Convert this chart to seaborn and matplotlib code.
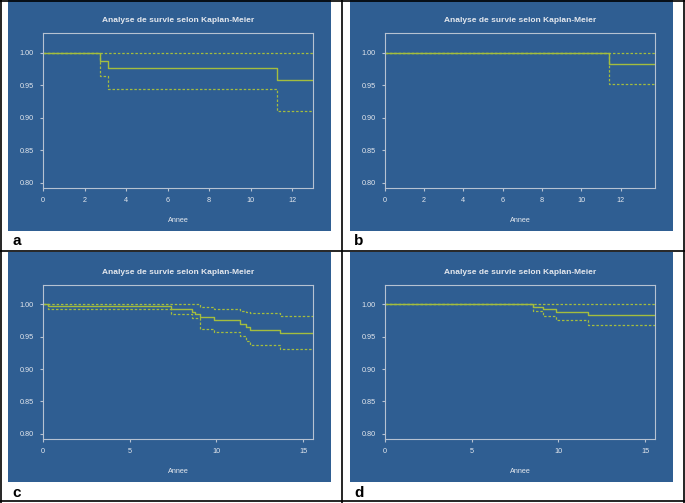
import pandas as pd
import numpy as np
import matplotlib
matplotlib.use('Agg')
import matplotlib.pyplot as plt
import seaborn as sns
from matplotlib.patches import Rectangle
from matplotlib.lines import Line2D

# ============================================
# DATA - Kaplan-Meier steps
# ============================================

# a
time_a = [0, 2.74, 3.14, 11.28, 13.0]
surv_a = [1.0, 0.9877, 0.9759, 0.9574, 0.9574]
low_a = [1.0, 0.9646, 0.9436, 0.9108, 0.9108]
up_a = [1.0, 1.0, 1.0, 1.0, 1.0]

# b
time_b = [0, 11.41, 13.76]
surv_b = [1.0, 0.9826, 0.9826]
low_b = [1.0, 0.9513, 0.9513]
up_b = [1.0, 1.0, 1.0]

# c
time_c = [0, 0.29, 7.39, 8.61, 8.77, 9.06, 9.86, 11.36, 11.70, 11.94, 13.66, 15.58]
surv_c = [1.0, 0.9969, 0.9923, 0.9888, 0.9857, 0.9800, 0.9755, 0.9690, 0.9652, 0.9612, 0.9556, 0.9556]
low_c = [1.0, 0.9923, 0.9857, 0.9790, 0.9790, 0.9622, 0.9577, 0.9510, 0.9440, 0.9378, 0.9306, 0.9306]
up_c = [1.0, 1.0, 1.0, 1.0, 1.0, 0.9959, 0.9934, 0.9900, 0.9880, 0.9860, 0.9816, 0.9816]

# d
time_d = [0, 8.56, 9.10, 9.86, 11.72, 15.58]
surv_d = [1.0, 0.9960, 0.9923, 0.9880, 0.9832, 0.9832]
low_d = [1.0, 0.9900, 0.9820, 0.9755, 0.9680, 0.9680]
up_d = [1.0, 1.0, 1.0, 1.0, 1.0, 1.0]

panels = [
    ('a', time_a, surv_a, low_a, up_a, [0, 2, 4, 6, 8, 10, 12]),
    ('b', time_b, surv_b, low_b, up_b, [0, 2, 4, 6, 8, 10, 12]),
    ('c', time_c, surv_c, low_c, up_c, [0, 5, 10, 15]),
    ('d', time_d, surv_d, low_d, up_d, [0, 5, 10, 15]),
]
yticks = [0.80, 0.85, 0.90, 0.95, 1.00]

# ============================================
# STYLING
# ============================================
sns.set_theme(style="white")
plt.rcParams['font.family'] = ['Liberation Sans', 'DejaVu Sans']

BLUE = '#2f5e92'
LINE = '#a4bd3e'
TXT = '#e4e8ee'
BOX = '#b6c2d2'

W, H = 685, 503
fig = plt.figure(figsize=(W / 100, H / 100), dpi=100)
fig.patch.set_facecolor('white')

def fx(px):
    return px / W

def fy(py):
    return 1 - py / H

# panel backgrounds (pixel boxes: left, top, right, bottom)
bg_boxes = [(8, 0, 331, 231), (350, 0, 673, 231),
            (8, 252, 331, 482), (350, 252, 673, 482)]
ax_boxes = [(43, 33, 313, 188), (384.7, 33, 655.3, 188),
            (42.7, 285, 313.3, 439), (384.7, 285, 655.3, 439)]
label_pos = [(12, 241), (354, 241), (12, 493), (354, 493)]

for (l, t, r, b) in bg_boxes:
    fig.patches.append(Rectangle((fx(l), fy(b)), fx(r - l), (b - t) / H,
                                 transform=fig.transFigure, facecolor=BLUE,
                                 edgecolor='none', zorder=-5))

for i, (name, t_, s_, lo_, up_, xt) in enumerate(panels):
    l, t, r, b = ax_boxes[i]
    ax = fig.add_axes([fx(l), fy(b), fx(r - l), (b - t) / H])
    ax.set_facecolor(BLUE)
    df = pd.DataFrame({'time': t_, 'surv': s_, 'low': lo_, 'up': up_})
    sns.lineplot(data=df, x='time', y='surv', drawstyle='steps-post',
                 color=LINE, lw=1.0, estimator=None, ax=ax)
    for col in ['low', 'up']:
        sns.lineplot(data=df, x='time', y=col, drawstyle='steps-post',
                     color=LINE, lw=0.9, estimator=None, ax=ax,
                     linestyle=(0, (2, 1.5)))
    ax.set_xlim(0, t_[-1])
    ax.set_ylim(0.792, 1.03)
    ax.set_xticks(xt)
    ax.set_xticklabels([str(v) for v in xt])
    ax.set_yticks(yticks)
    ax.set_yticklabels([f'{v:.2f}' for v in yticks])
    for sp in ax.spines.values():
        sp.set_color(BOX)
        sp.set_linewidth(0.8)
    ax.tick_params(axis='both', colors=BOX, labelcolor=TXT, labelsize=5.2,
                   length=2.5, width=0.8, direction='out', pad=4,
                   bottom=True, left=True)
    ax.set_title('Analyse de survie selon Kaplan-Meier', color=TXT,
                 fontsize=6.0, fontweight='bold', pad=8)
    ax.set_xlabel('Annee', color=TXT, fontsize=5.2, labelpad=9)
    ax.set_ylabel('')
    ax.grid(False)

    lx, ly = label_pos[i]
    fig.text(fx(lx), fy(ly), name, fontsize=11, fontweight='bold',
             color='black', ha='left', va='center')

# black frame and dividers
frame = dict(color='black', lw=1.2, transform=fig.transFigure)
fig.lines.append(Line2D([fx(342), fx(342)], [0, 1], **frame))
fig.lines.append(Line2D([0, 1], [fy(251), fy(251)], **frame))
fig.lines.append(Line2D([0.001, 0.001], [0, 1], **frame))
fig.lines.append(Line2D([0.999, 0.999], [0, 1], **frame))
fig.lines.append(Line2D([0, 1], [0.999, 0.999], **frame))
fig.lines.append(Line2D([0, 1], [0.003, 0.003], **frame))

plt.savefig('out.png', dpi=100, facecolor='white')
